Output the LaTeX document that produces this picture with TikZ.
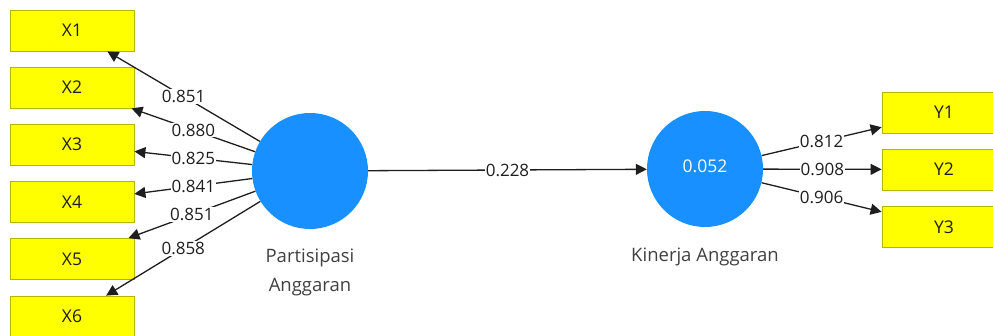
\documentclass[tikz,border=0pt]{standalone}
\usepackage{fontspec}
\setmainfont{Open Sans}
\usetikzlibrary{arrows.meta}
\definecolor{boxyellow}{HTML}{FFFF00}
\definecolor{boxedge}{HTML}{B5B500}
\definecolor{lvblue}{HTML}{1890FF}
\definecolor{txt}{HTML}{1E1E1E}
\begin{document}
\begin{tikzpicture}[x=1pt,y=-1pt,
  ind/.style={draw=boxedge, fill=boxyellow, minimum width=124pt, minimum height=41pt,
    inner sep=0pt, line width=0.8pt, text=txt, font=\fontsize{17.5}{20}\selectfont},
  lv/.style={circle, fill=lvblue, minimum size=116pt, inner sep=0pt, text=white,
    font=\fontsize{17.5}{20}\selectfont},
  conn/.style={draw=txt, line width=1.3pt, -{Triangle[length=11pt,width=11pt]}},
  lbl/.style={fill=white, inner sep=1pt, text=txt, font=\fontsize{17}{20}\selectfont},
  lvname/.style={text=txt!85, align=center, font=\fontsize{18.5}{29}\selectfont}]
\useasboundingbox (0,0) rectangle (993,336);
% indicators
\node[ind] (X1) at (72,30.5) {X1};
\node[ind] (X2) at (72,87.5) {X2};
\node[ind] (X3) at (72,144.5) {X3};
\node[ind] (X4) at (72,202) {X4};
\node[ind] (X5) at (72,259) {X5};
\node[ind] (X6) at (72,316.5) {X6};
\node[ind] (Y1) at (944,112.5) {Y1};
\node[ind] (Y2) at (944,169.5) {Y2};
\node[ind] (Y3) at (944,227) {Y3};
% latent variables
\node[lv] (P) at (310,171) {};
\node[lv] (K) at (705,169) {\raisebox{6pt}{0.052}};
\node[lvname] (Pn) at (310,272.5) {Partisipasi\\Anggaran};
\node[lvname] (Kn) at (705,257) {Kinerja Anggaran};
% loadings
\draw[conn] (P) -- node[lbl] {0.851} (X1);
\draw[conn] (P) -- node[lbl] {0.880} (X2);
\draw[conn] (P) -- node[lbl] {0.825} (X3);
\draw[conn] (P) -- node[lbl] {0.841} (X4);
\draw[conn] (P) -- node[lbl] {0.851} (X5);
\draw[conn] (P) -- node[lbl] {0.858} (X6);
\draw[conn] (P) -- node[lbl] {0.228} (K);
\draw[conn] (K) -- node[lbl] {0.812} (Y1);
\draw[conn] (K) -- node[lbl] {0.908} (Y2);
\draw[conn] (K) -- node[lbl] {0.906} (Y3);
\end{tikzpicture}
\end{document}
